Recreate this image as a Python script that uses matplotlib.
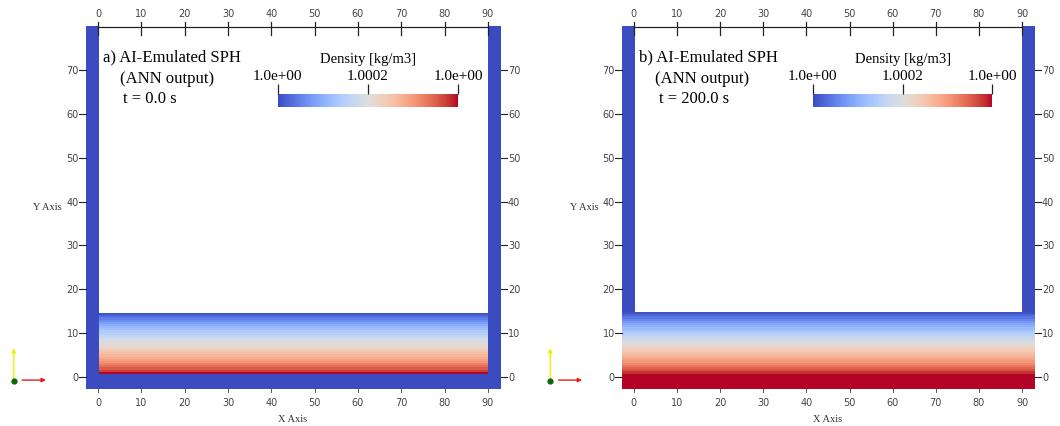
"""
AI-emulated SPH tank: density field at t = 0 s and t = 200 s (ParaView-style render).
"""

import matplotlib
matplotlib.use('Agg')
import matplotlib.pyplot as plt
import numpy as np
from matplotlib.patches import Rectangle
from matplotlib.cm import ScalarMappable
from matplotlib.colors import Normalize

# --- data -------------------------------------------------------------------
x_ticks = [0, 10, 20, 30, 40, 50, 60, 70, 80, 90]
y_ticks = [0, 10, 20, 30, 40, 50, 60, 70]

panel_titles = ['a) AI-Emulated SPH', 'b) AI-Emulated SPH']
panel_times = ['t = 0.0 s', 't = 200.0 s']

rho_min = 1.0
rho_max = 1.0004
cbar_ticks = [1.0, 1.0002, 1.0004]
cbar_labels = ['1.0e+00', '1.0002', '1.0e+00']

# density layers from bottom to top, offset from 1.0 in units of 1e-4 kg/m3
rho_a = [4.0, 3.72, 3.52, 3.36, 3.2, 3.04, 2.92, 2.8, 2.68, 2.56, 2.44,
         2.32, 2.2, 2.08, 2.0, 1.88, 1.76, 1.64, 1.52, 1.4, 1.24, 1.12,
         0.96, 0.8, 0.64, 0.48, 0.28, 0.08]
rho_b = [4.0, 4.0, 4.0, 4.0, 4.0, 4.0, 4.0,
         3.8, 3.6, 3.45, 3.3, 3.15, 3.0, 2.88, 2.76, 2.64, 2.52, 2.4,
         2.28, 2.16, 2.04, 1.92, 1.8, 1.68, 1.56, 1.44, 1.3, 1.16, 1.02,
         0.88, 0.72, 0.56, 0.4, 0.22, 0.06]

# fluid block extent (x0, x1, y0, y1) for each panel
fluid_a = (0.3, 89.9, 0.7, 14.6)
fluid_b = (-2.7, 92.9, -2.8, 14.6)

cmap = plt.get_cmap('coolwarm')
wall_color = cmap(0.0)
serif = 'Liberation Serif'
tick_color = '#444444'


def draw_panel(ax, rho, fluid, title, time_label, xlim, side_walls_full):
    ax.set_xlim(*xlim)
    ax.set_ylim(-11.17, 86.2)
    ax.axis('off')

    # walls
    wall_bottom = -2.8
    wall_top = 80.0
    if side_walls_full:
        ax.add_patch(Rectangle((-2.7, wall_bottom), 3.0, wall_top - wall_bottom,
                               color=wall_color, lw=0, zorder=1))
        ax.add_patch(Rectangle((89.9, wall_bottom), 3.0, wall_top - wall_bottom,
                               color=wall_color, lw=0, zorder=1))
        ax.add_patch(Rectangle((-2.7, wall_bottom), 95.6, fluid[2] - wall_bottom,
                               color=wall_color, lw=0, zorder=1))
    else:
        top = fluid[3]
        ax.add_patch(Rectangle((-2.7, top), 3.0, wall_top - top,
                               color=wall_color, lw=0, zorder=1))
        ax.add_patch(Rectangle((89.9, top), 3.0, wall_top - top,
                               color=wall_color, lw=0, zorder=1))

    # fluid density layers
    rho_vals = rho_min + np.array(rho)[:, None] * 1e-4
    ax.imshow(rho_vals, extent=fluid, origin='lower', cmap=cmap,
              vmin=rho_min, vmax=rho_max, aspect='auto',
              interpolation='nearest', zorder=2)

    # top axis with cross ticks
    ax.plot([0, 90], [79.8, 79.8], color='#222222', lw=0.9, zorder=3)
    for xt in x_ticks:
        ax.plot([xt, xt], [77.9, 81.0], color='#222222', lw=0.9, zorder=3)
        ax.text(xt, 82.9, str(xt), ha='center', va='center', fontsize=7,
                color=tick_color)
        # bottom labels
        ax.plot([xt, xt], [-2.8, -3.5], color='#555555', lw=0.7, zorder=3)
        ax.text(xt, -5.6, str(xt), ha='center', va='center', fontsize=7,
                color=tick_color)

    for yt in y_ticks:
        ax.plot([-4.3, -2.7], [yt, yt], color='#222222', lw=0.8, zorder=3)
        ax.text(-4.4, yt, str(yt), ha='right', va='center', fontsize=7,
                color=tick_color)
        ax.plot([92.9, 94.5], [yt, yt], color='#222222', lw=0.8, zorder=3)
        ax.text(94.6, yt, str(yt), ha='left', va='center', fontsize=7,
                color=tick_color)

    ax.text(45, -9.4, 'X Axis', ha='center', va='center', fontsize=7.5,
            family=serif, color='#333333')
    ax.text(-11.6, 38.8, 'Y Axis', ha='center', va='center', fontsize=7.5,
            family=serif, color='#333333')

    # orientation triad
    ax.annotate('', xy=(-19.4, 6.6), xytext=(-19.4, -0.9),
                arrowprops=dict(arrowstyle='-|>', color='#f0f000', lw=1.0,
                                mutation_scale=6, shrinkA=0, shrinkB=0))
    ax.annotate('', xy=(-12.0, -0.7), xytext=(-17.5, -0.7),
                arrowprops=dict(arrowstyle='-|>', color='#e8201a', lw=1.0,
                                mutation_scale=6, shrinkA=0, shrinkB=0))
    ax.plot([-19.4], [-0.9], 'o', color='#0a6a0a', ms=3.5, zorder=4)

    # labels
    ax.text(1.1, 73.0, title, ha='left', va='center', fontsize=12,
            family=serif)
    ax.text(5.0, 68.2, '(ANN output)', ha='left', va='center', fontsize=12,
            family=serif)
    ax.text(5.7, 63.7, time_label, ha='left', va='center', fontsize=12,
            family=serif)

    # colour legend
    cax = ax.inset_axes([41.5, 61.6, 41.6, 2.9], transform=ax.transData)
    sm = ScalarMappable(norm=Normalize(rho_min, rho_max), cmap=cmap)
    cb = plt.colorbar(sm, cax=cax, orientation='horizontal')
    cb.outline.set_visible(False)
    cax.xaxis.set_ticks_position('top')
    cb.set_ticks(cbar_ticks)
    cb.set_ticklabels(cbar_labels)
    cax.tick_params(axis='x', length=7, width=0.9, direction='out', pad=1.5,
                    color='#222222', labelsize=11)
    for lbl in cax.get_xticklabels():
        lbl.set_family(serif)
    ax.text(62.3, 72.6, 'Density [kg/m3]', ha='center', va='center',
            fontsize=10.5, family=serif)


fig = plt.figure(figsize=(10.6, 4.27), dpi=100)
ax_a = fig.add_axes([0.0, 0.0, 0.5, 1.0])
ax_b = fig.add_axes([0.5, 0.0, 0.5, 1.0])

draw_panel(ax_a, rho_a, fluid_a, panel_titles[0], panel_times[0],
           (-22.6, 99.7), True)
draw_panel(ax_b, rho_b, fluid_b, panel_titles[1], panel_times[1],
           (-24.1, 98.8), False)

fig.savefig('out.png', dpi=100)
